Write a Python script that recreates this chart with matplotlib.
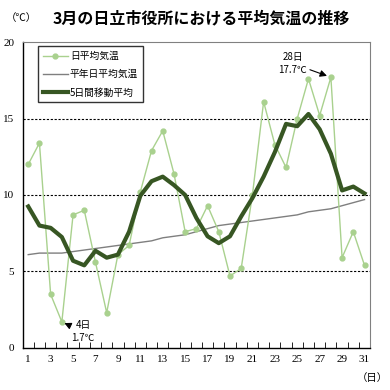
import matplotlib
matplotlib.use("Agg")
import matplotlib.pyplot as plt
import numpy as np

plt.rcParams['font.family'] = ['Noto Sans CJK JP', 'DejaVu Sans']

# data
days = list(range(1, 32))
daily = [12.0, 13.4, 3.5, 1.7, 8.7, 9.0, 5.6, 2.3, 6.1, 6.7,
         10.2, 12.9, 14.2, 11.4, 7.6, 7.8, 9.3, 7.6, 4.7, 5.2,
         10.0, 16.1, 13.3, 11.8, 15.0, 17.6, 15.2, 17.7, 5.9, 7.6, 5.4]
normal = [6.1, 6.2, 6.2, 6.2, 6.3, 6.4, 6.5, 6.6, 6.7, 6.8,
          6.9, 7.0, 7.2, 7.3, 7.4, 7.6, 7.8, 8.0, 8.1, 8.2,
          8.3, 8.4, 8.5, 8.6, 8.7, 8.9, 9.0, 9.1, 9.3, 9.5, 9.7]
avg5 = [9.25, 8.0, 7.85, 7.25, 5.7, 5.4, 6.35, 5.9, 6.1, 7.6,
        9.95, 10.9, 11.2, 10.65, 10.0, 8.5, 7.3, 6.85, 7.3, 8.6,
        9.8, 11.2, 12.8, 14.65, 14.5, 15.3, 14.3, 12.7, 10.3, 10.55, 10.1]
xlabels = [str(d) if d % 2 == 1 else '' for d in days]

fig = plt.figure(figsize=(3.9, 3.9), dpi=100)
ax = fig.add_axes([0.058, 0.108, 0.891, 0.784])

for yv in [5, 10, 15]:
    ax.axhline(yv, color='black', lw=0.8, ls=(0, (2, 1.5)), zorder=1)

ax.plot(days, daily, color='#a9d18e', lw=1.0, marker='o', ms=3.5,
        mec='#a9d18e', mfc='#a9d18e', label='日平均気温', zorder=3)
ax.plot(days, normal, color='#7f7f7f', lw=1.0, label='平年日平均気温', zorder=2)
ax.plot(days, avg5, color='#375623', lw=3.0, label='5日間移動平均', zorder=4)

ax.set_xlim(0.5, 31.5)
ax.set_ylim(0, 20)
ax.set_yticks([0, 5, 10, 15, 20])
ax.set_yticklabels(['0', '5', '10', '15', '20'], family='Liberation Serif', fontsize=8)
ax.tick_params(axis='y', length=0, pad=6)
ax.set_xticks(days)
ax.set_xticklabels(xlabels, family='Liberation Serif', fontsize=8)
ax.set_xticks(np.arange(1.5, 31.5, 1), minor=True)
ax.tick_params(axis='x', which='major', length=0, pad=5)
ax.tick_params(axis='x', which='minor', length=4, direction='in', color='black')

for s in ['top', 'right']:
    ax.spines[s].set_color('#808080')
for s in ['left', 'bottom']:
    ax.spines[s].set_color('black')
    ax.spines[s].set_linewidth(1.0)

leg = ax.legend(loc='upper left', bbox_to_anchor=(0.03, 1.003), fontsize=7,
                frameon=True, fancybox=False, edgecolor='black', borderpad=0.5,
                handlelength=2.6, labelspacing=0.85, handletextpad=0.2)
leg.get_frame().set_linewidth(1.0)

ax.annotate('28日\n17.7℃', xy=(28, 17.7), xytext=(24.6, 18.6),
            fontsize=7, ha='center', va='center', linespacing=1.4,
            arrowprops=dict(arrowstyle='-|>', color='black', lw=0.8,
                            mutation_scale=10, shrinkA=0, shrinkB=3))
ax.annotate('4日\n1.7℃', xy=(4, 1.7), xytext=(5.9, 1.05),
            fontsize=7, ha='center', va='center', linespacing=1.4,
            arrowprops=dict(arrowstyle='-|>', color='black', lw=0.8,
                            mutation_scale=10, shrinkA=8, shrinkB=2))

fig.text(0.055, 0.955, '（℃）', fontsize=7.5, ha='center', va='center')
fig.text(0.515, 0.953, '3月の日立市役所における平均気温の推移', fontsize=11.5,
         fontweight='bold', ha='center', va='center')
fig.text(0.955, 0.030, '（日）', fontsize=7.5, ha='center', va='center')

fig.savefig('out.png', dpi=100)
